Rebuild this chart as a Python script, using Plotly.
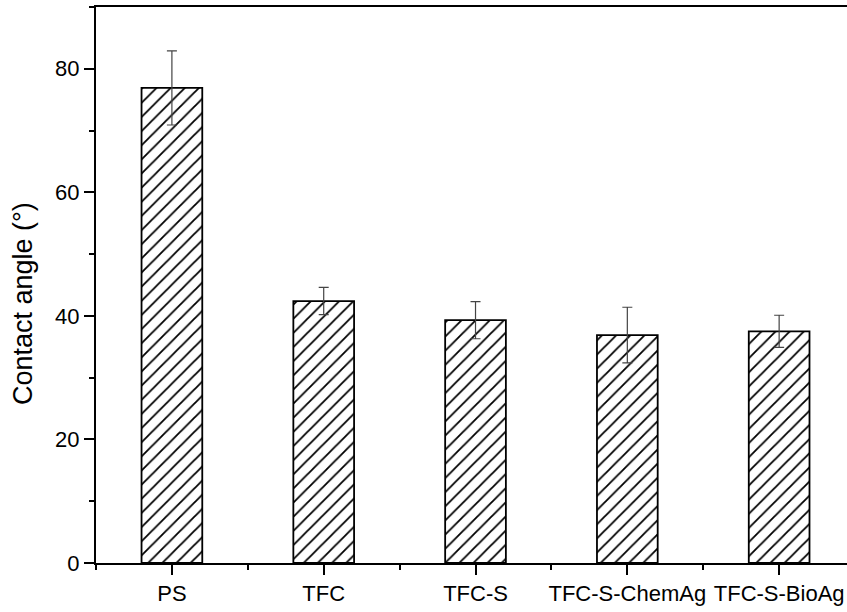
import plotly.graph_objects as go

categories = ["PS", "TFC", "TFC-S", "TFC-S-ChemAg", "TFC-S-BioAg"]
contact_angle = [76.9, 42.4, 39.3, 36.9, 37.5]
angle_err = [6.0, 2.2, 3.0, 4.5, 2.6]
y_ticks = [0, 20, 40, 60, 80]
y_title = "Contact angle (°)"

x_pos = list(range(len(categories)))

font_family = "Arial, Liberation Sans, sans-serif"

fig = go.Figure()
fig.add_trace(go.Bar(
    x=x_pos,
    y=contact_angle,
    width=0.4,
    marker=dict(
        color="white",
        line=dict(color="black", width=1.8),
        pattern=dict(shape="/", fgcolor="black", fgopacity=1, bgcolor="white", size=10, solidity=0.18),
    ),
    error_y=dict(type="data", array=angle_err, visible=True, color="#444444", thickness=1.2, width=5),
    showlegend=False,
))

fig.update_layout(
    width=847, height=612,
    margin=dict(l=96, r=0, t=7, b=49),
    paper_bgcolor="white", plot_bgcolor="white",
    font=dict(family=font_family, size=22, color="black"),
)
fig.add_annotation(
    text=y_title, textangle=-90, showarrow=False,
    xref="paper", yref="paper", x=-0.097, y=0.466,
    xanchor="center", yanchor="middle",
    font=dict(size=27, color="black", family=font_family),
)
fig.update_xaxes(
    range=[-0.5, 4.447],
    tickmode="array", tickvals=x_pos, ticktext=categories,
    ticklabeloverflow="allow",
    showline=True, linecolor="black", linewidth=2, mirror=True,
    ticks="outside", ticklen=10, tickwidth=2, tickcolor="black",
    minor=dict(tickmode="linear", tick0=0.5, dtick=1, ticks="outside", ticklen=5, tickwidth=2, tickcolor="black"),
    showgrid=False, zeroline=False,
    tickfont=dict(size=22),
)
fig.update_yaxes(
    range=[0, 90],
    tickmode="array", tickvals=y_ticks,
    showline=True, linecolor="black", linewidth=2,
    ticks="outside", ticklen=10, tickwidth=2, tickcolor="black",
    minor=dict(tickmode="linear", tick0=10, dtick=20, ticks="outside", ticklen=5, tickwidth=2, tickcolor="black"),
    showgrid=False, zeroline=False,
    tickfont=dict(size=22),
)

fig.write_html("out.html")
